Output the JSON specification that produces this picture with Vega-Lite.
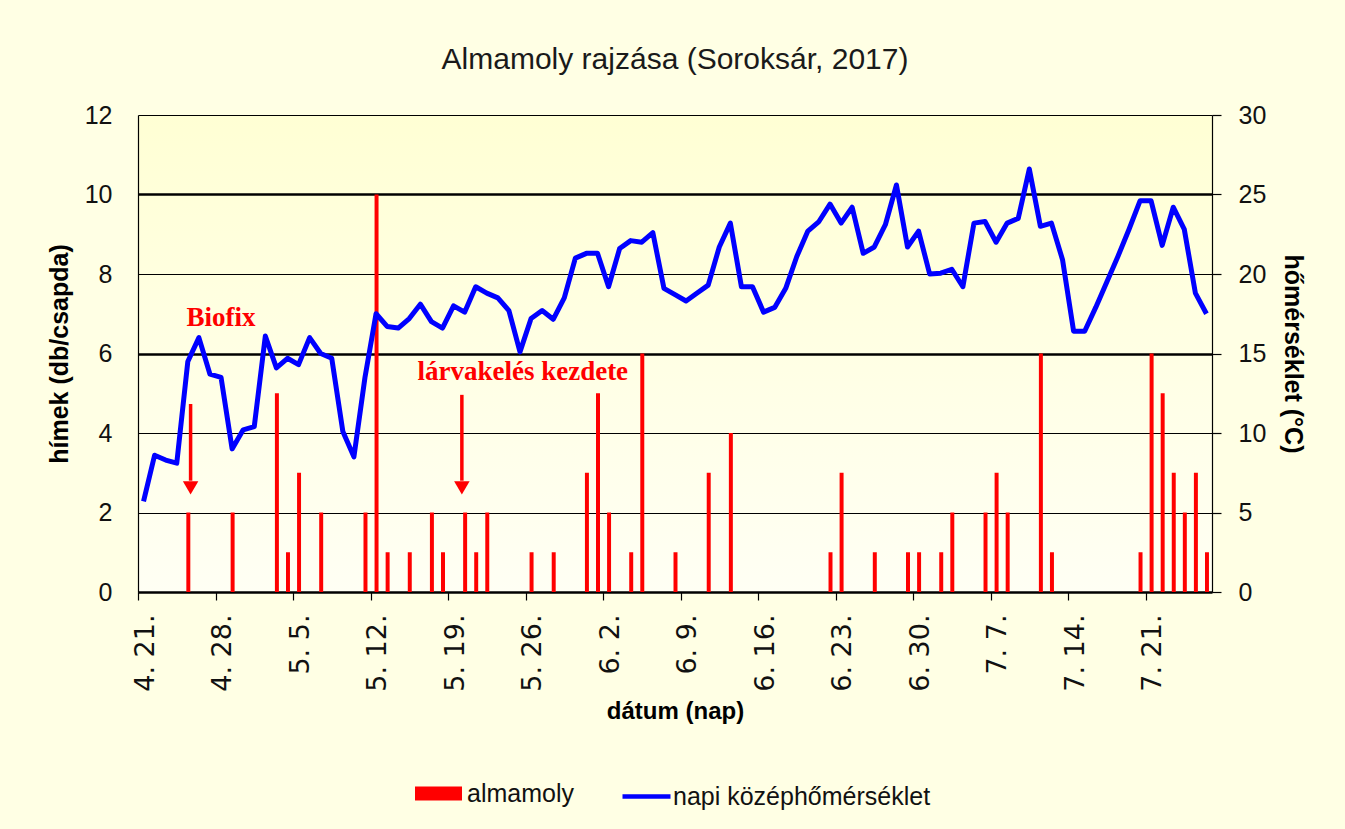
{
  "$schema": "https://vega.github.io/schema/vega-lite/v6.json",
  "width": 1074,
  "height": 477,
  "autosize": {"type": "none"},
  "padding": {"left": 138, "top": 115, "right": 133, "bottom": 237},
  "background": "#FFFFE4",
  "view": {"stroke": null, "fill": {"gradient": "linear", "x1": 0, "y1": 0, "x2": 0, "y2": 1, "stops": [{"offset": 0, "color": "#FFFFD4"}, {"offset": 1, "color": "#FFFFF4"}]}},
  "title": {"text": "Almamoly rajzása (Soroksár, 2017)", "font": "Liberation Sans", "fontSize": 30, "fontWeight": "normal", "color": "#1a1a1a", "anchor": "middle", "offset": 28},
  "datasets": {
    "temps": [
      {"date": "2017-04-21", "temp": 5.7}, {"date": "2017-04-22", "temp": 8.6}, {"date": "2017-04-23", "temp": 8.3}, {"date": "2017-04-24", "temp": 8.1},
      {"date": "2017-04-25", "temp": 14.5}, {"date": "2017-04-26", "temp": 16.0}, {"date": "2017-04-27", "temp": 13.7}, {"date": "2017-04-28", "temp": 13.5},
      {"date": "2017-04-29", "temp": 9.0}, {"date": "2017-04-30", "temp": 10.2}, {"date": "2017-05-01", "temp": 10.4}, {"date": "2017-05-02", "temp": 16.1},
      {"date": "2017-05-03", "temp": 14.1}, {"date": "2017-05-04", "temp": 14.7}, {"date": "2017-05-05", "temp": 14.3}, {"date": "2017-05-06", "temp": 16.0},
      {"date": "2017-05-07", "temp": 15.0}, {"date": "2017-05-08", "temp": 14.7}, {"date": "2017-05-09", "temp": 10.1}, {"date": "2017-05-10", "temp": 8.5},
      {"date": "2017-05-11", "temp": 13.5}, {"date": "2017-05-12", "temp": 17.5}, {"date": "2017-05-13", "temp": 16.7}, {"date": "2017-05-14", "temp": 16.6},
      {"date": "2017-05-15", "temp": 17.2}, {"date": "2017-05-16", "temp": 18.1}, {"date": "2017-05-17", "temp": 17.0}, {"date": "2017-05-18", "temp": 16.6},
      {"date": "2017-05-19", "temp": 18.0}, {"date": "2017-05-20", "temp": 17.6}, {"date": "2017-05-21", "temp": 19.2}, {"date": "2017-05-22", "temp": 18.8},
      {"date": "2017-05-23", "temp": 18.5}, {"date": "2017-05-24", "temp": 17.7}, {"date": "2017-05-25", "temp": 15.1}, {"date": "2017-05-26", "temp": 17.2},
      {"date": "2017-05-27", "temp": 17.7}, {"date": "2017-05-28", "temp": 17.15}, {"date": "2017-05-29", "temp": 18.5}, {"date": "2017-05-30", "temp": 21.0},
      {"date": "2017-05-31", "temp": 21.3}, {"date": "2017-06-01", "temp": 21.3}, {"date": "2017-06-02", "temp": 19.2}, {"date": "2017-06-03", "temp": 21.6},
      {"date": "2017-06-04", "temp": 22.1}, {"date": "2017-06-05", "temp": 22.0}, {"date": "2017-06-06", "temp": 22.6}, {"date": "2017-06-07", "temp": 19.1},
      {"date": "2017-06-08", "temp": 18.7}, {"date": "2017-06-09", "temp": 18.3}, {"date": "2017-06-10", "temp": 18.8}, {"date": "2017-06-11", "temp": 19.3},
      {"date": "2017-06-12", "temp": 21.7}, {"date": "2017-06-13", "temp": 23.2}, {"date": "2017-06-14", "temp": 19.2}, {"date": "2017-06-15", "temp": 19.2},
      {"date": "2017-06-16", "temp": 17.6}, {"date": "2017-06-17", "temp": 17.9}, {"date": "2017-06-18", "temp": 19.1}, {"date": "2017-06-19", "temp": 21.1},
      {"date": "2017-06-20", "temp": 22.7}, {"date": "2017-06-21", "temp": 23.3}, {"date": "2017-06-22", "temp": 24.4}, {"date": "2017-06-23", "temp": 23.2},
      {"date": "2017-06-24", "temp": 24.2}, {"date": "2017-06-25", "temp": 21.3}, {"date": "2017-06-26", "temp": 21.7}, {"date": "2017-06-27", "temp": 23.1},
      {"date": "2017-06-28", "temp": 25.6}, {"date": "2017-06-29", "temp": 21.7}, {"date": "2017-06-30", "temp": 22.7}, {"date": "2017-07-01", "temp": 20.0},
      {"date": "2017-07-02", "temp": 20.05}, {"date": "2017-07-03", "temp": 20.3}, {"date": "2017-07-04", "temp": 19.2}, {"date": "2017-07-05", "temp": 23.2},
      {"date": "2017-07-06", "temp": 23.3}, {"date": "2017-07-07", "temp": 22.0}, {"date": "2017-07-08", "temp": 23.2}, {"date": "2017-07-09", "temp": 23.5},
      {"date": "2017-07-10", "temp": 26.6}, {"date": "2017-07-11", "temp": 23.0}, {"date": "2017-07-12", "temp": 23.2}, {"date": "2017-07-13", "temp": 20.9},
      {"date": "2017-07-14", "temp": 16.4}, {"date": "2017-07-15", "temp": 16.4}, {"date": "2017-07-16", "temp": 17.9}, {"date": "2017-07-17", "temp": 19.5},
      {"date": "2017-07-18", "temp": 21.1}, {"date": "2017-07-19", "temp": 22.8}, {"date": "2017-07-20", "temp": 24.6}, {"date": "2017-07-21", "temp": 24.6},
      {"date": "2017-07-22", "temp": 21.8}, {"date": "2017-07-23", "temp": 24.2}, {"date": "2017-07-24", "temp": 22.8}, {"date": "2017-07-25", "temp": 18.8},
      {"date": "2017-07-26", "temp": 17.5}
    ],
    "moths": [
      {"date": "2017-04-25", "count": 2}, {"date": "2017-04-29", "count": 2}, {"date": "2017-05-03", "count": 5}, {"date": "2017-05-04", "count": 1},
      {"date": "2017-05-05", "count": 3}, {"date": "2017-05-07", "count": 2}, {"date": "2017-05-11", "count": 2}, {"date": "2017-05-12", "count": 10},
      {"date": "2017-05-13", "count": 1}, {"date": "2017-05-15", "count": 1}, {"date": "2017-05-17", "count": 2}, {"date": "2017-05-18", "count": 1},
      {"date": "2017-05-20", "count": 2}, {"date": "2017-05-21", "count": 1}, {"date": "2017-05-22", "count": 2}, {"date": "2017-05-26", "count": 1},
      {"date": "2017-05-28", "count": 1}, {"date": "2017-05-31", "count": 3}, {"date": "2017-06-01", "count": 5}, {"date": "2017-06-02", "count": 2},
      {"date": "2017-06-04", "count": 1}, {"date": "2017-06-05", "count": 6}, {"date": "2017-06-08", "count": 1}, {"date": "2017-06-11", "count": 3},
      {"date": "2017-06-13", "count": 4}, {"date": "2017-06-22", "count": 1}, {"date": "2017-06-23", "count": 3}, {"date": "2017-06-26", "count": 1},
      {"date": "2017-06-29", "count": 1}, {"date": "2017-06-30", "count": 1}, {"date": "2017-07-02", "count": 1}, {"date": "2017-07-03", "count": 2},
      {"date": "2017-07-06", "count": 2}, {"date": "2017-07-07", "count": 3}, {"date": "2017-07-08", "count": 2}, {"date": "2017-07-11", "count": 6},
      {"date": "2017-07-12", "count": 1}, {"date": "2017-07-20", "count": 1}, {"date": "2017-07-21", "count": 6}, {"date": "2017-07-22", "count": 5},
      {"date": "2017-07-23", "count": 3}, {"date": "2017-07-24", "count": 2}, {"date": "2017-07-25", "count": 3}, {"date": "2017-07-26", "count": 1}
    ],
    "arrows": [
      {"date": "2017-04-25T18:00:00Z", "top": 4.73, "bottom": 2.8, "tip": 2.62},
      {"date": "2017-05-20T06:00:00Z", "top": 4.96, "bottom": 2.8, "tip": 2.62}
    ],
    "notes": [
      {"date": "2017-04-28T12:00:00Z", "y": 6.9, "label": "Biofix"},
      {"date": "2017-05-25T18:00:00Z", "y": 5.53, "label": "lárvakelés kezdete"}
    ]
  },
  "layer": [
    {
      "layer": [
        {
          "data": {"name": "moths"},
          "mark": {"type": "bar", "color": "#FF0000", "width": {"band": 0.45}},
          "encoding": {
            "x": {
              "field": "date", "type": "temporal", "timeUnit": "utcyearmonthdate",
              "scale": {"type": "utc", "domain": [{"year": 2017, "month": 4, "date": 21, "utc": true}, {"year": 2017, "month": 7, "date": 27, "utc": true}], "nice": false},
              "axis": {
                "title": "dátum (nap)",
                "values": [
                  {"year": 2017, "month": 4, "date": 21, "utc": true}, {"year": 2017, "month": 4, "date": 28, "utc": true},
                  {"year": 2017, "month": 5, "date": 5, "utc": true}, {"year": 2017, "month": 5, "date": 12, "utc": true},
                  {"year": 2017, "month": 5, "date": 19, "utc": true}, {"year": 2017, "month": 5, "date": 26, "utc": true},
                  {"year": 2017, "month": 6, "date": 2, "utc": true}, {"year": 2017, "month": 6, "date": 9, "utc": true},
                  {"year": 2017, "month": 6, "date": 16, "utc": true}, {"year": 2017, "month": 6, "date": 23, "utc": true},
                  {"year": 2017, "month": 6, "date": 30, "utc": true}, {"year": 2017, "month": 7, "date": 7, "utc": true},
                  {"year": 2017, "month": 7, "date": 14, "utc": true}, {"year": 2017, "month": 7, "date": 21, "utc": true}
                ],
                "labelExpr": "utcFormat(datum.value, '%-m. %-d.')",
                "labelAngle": -90,
                "labelAlign": "right",
                "labelBaseline": "middle",
                "labelFlush": false,
                "labelOverlap": false,
                "labelBound": false,
                "labelOffset": 7,
                "labelPadding": 14,
                "labelFont": "DejaVu Sans",
                "labelFontSize": 27,
                "labelColor": "#111111",
                "domainColor": "black",
                "domainWidth": 2.5,
                "tickColor": "black",
                "tickSize": 8,
                "tickWidth": 1.2,
                "grid": false,
                "titleFont": "Liberation Sans",
                "titleFontSize": 24,
                "titleFontWeight": "bold",
                "titleColor": "black",
                "titlePadding": 8
              }
            },
            "y": {
              "field": "count", "type": "quantitative",
              "scale": {"domain": [0, 12], "nice": false},
              "axis": {
                "title": "hímek (db/csapda)",
                "values": [0, 2, 4, 6, 8, 10, 12],
                "grid": true,
                "gridColor": "black",
                "gridWidth": {"condition": {"test": "datum.value === 6 || datum.value === 10", "value": 2.5}, "value": 1.2},
                "tickSize": 0,
                "domainColor": "black",
                "domainWidth": 1.2,
                "labelPadding": 26,
                "labelFont": "Liberation Sans",
                "labelFontSize": 25,
                "labelColor": "#111111",
                "titleFont": "Liberation Sans",
                "titleFontSize": 25,
                "titleFontWeight": "bold",
                "titleColor": "black",
                "titlePadding": 12
              }
            },
            "color": {
              "datum": "almamoly",
              "scale": {"range": ["#FF0000"]},
              "legend": {
                "orient": "none", "legendX": 277, "legendY": 655, "title": null,
                "symbolType": "M-1,-0.3H1V0.3H-1Z", "symbolSize": 2209, "symbolStrokeWidth": 0,
                "labelFont": "Liberation Sans", "labelFontSize": 25, "labelColor": "#111111", "labelOffset": 5, "labelLimit": 400
              }
            }
          }
        },
        {
          "data": {"name": "arrows"},
          "mark": {"type": "rule", "color": "#FF0000", "strokeWidth": 3.5},
          "encoding": {
            "x": {"field": "date", "type": "temporal"},
            "y": {"field": "top", "type": "quantitative"},
            "y2": {"field": "bottom"}
          }
        },
        {
          "data": {"name": "arrows"},
          "mark": {"type": "point", "shape": "triangle-down", "filled": true, "color": "#FF0000", "size": 240, "opacity": 1},
          "encoding": {
            "x": {"field": "date", "type": "temporal"},
            "y": {"field": "tip", "type": "quantitative"}
          }
        },
        {
          "data": {"name": "notes"},
          "mark": {"type": "text", "color": "#FF0000", "font": "Liberation Serif", "fontWeight": "bold", "fontSize": 27, "align": "center", "baseline": "middle"},
          "encoding": {
            "x": {"field": "date", "type": "temporal"},
            "y": {"field": "y", "type": "quantitative"},
            "text": {"field": "label"}
          }
        }
      ]
    },
    {
      "data": {"name": "temps"},
      "mark": {"type": "line", "strokeWidth": 5, "strokeJoin": "round"},
      "encoding": {
        "x": {"field": "date", "type": "temporal", "timeUnit": "utcyearmonthdate", "bandPosition": 0.5},
        "y": {
          "field": "temp", "type": "quantitative",
          "scale": {"domain": [0, 30], "nice": false},
          "axis": {
            "orient": "right",
            "title": "hőmérséklet (°C)",
            "values": [0, 5, 10, 15, 20, 25, 30],
            "grid": false,
            "tickSize": 9,
            "tickColor": "black",
            "tickWidth": 1.2,
            "domainColor": "black",
            "domainWidth": 1.2,
            "labelPadding": 17,
            "labelFont": "Liberation Sans",
            "labelFontSize": 25,
            "labelColor": "#111111",
            "titleFont": "Liberation Sans",
            "titleFontSize": 25,
            "titleFontWeight": "bold",
            "titleColor": "black",
            "titlePadding": 14
          }
        },
        "stroke": {
          "datum": "napi középhőmérséklet",
          "scale": {"range": ["#0000FF"]},
          "legend": {
            "orient": "none", "legendX": 482, "legendY": 655, "title": null,
            "symbolType": "stroke", "symbolSize": 2304, "symbolStrokeWidth": 4.5,
            "labelFont": "Liberation Sans", "labelFontSize": 25, "labelColor": "#111111", "labelOffset": 0, "labelLimit": 400
          }
        }
      }
    }
  ],
  "resolve": {"scale": {"y": "independent"}}
}
